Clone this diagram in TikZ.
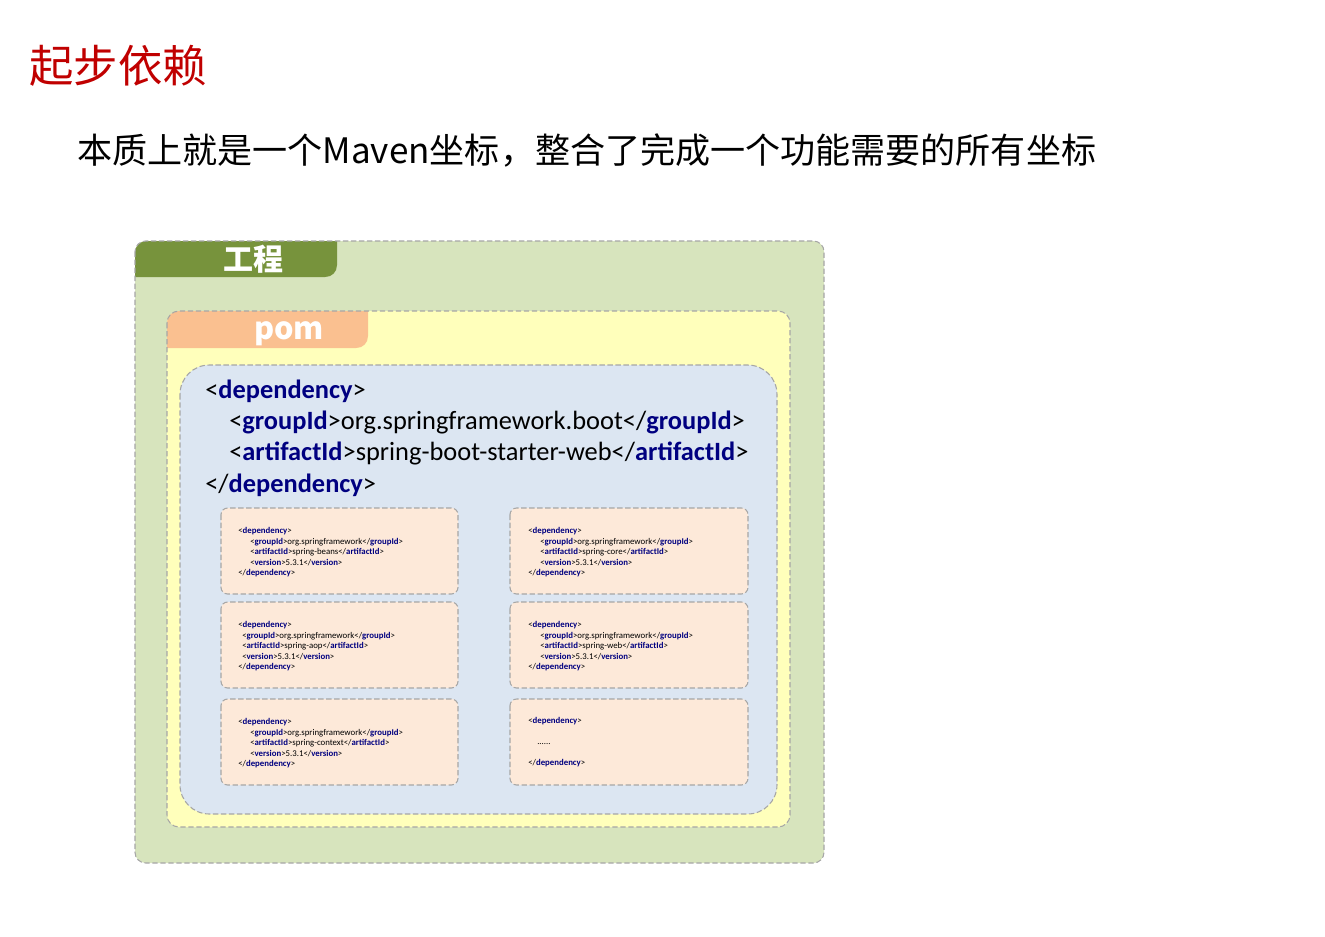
\documentclass[tikz,border=0pt]{standalone}
\usepackage{fontspec}
\setmainfont{Carlito}
\newfontfamily\cjk{Noto Sans CJK SC}
\newfontfamily\codefont{Carlito}
\definecolor{titlered}{HTML}{C00000}
\definecolor{outerfill}{HTML}{D7E4BD}
\definecolor{outertab}{HTML}{77933C}
\definecolor{pomfill}{HTML}{FFFFBB}
\definecolor{pomtab}{HTML}{FAC090}
\definecolor{bluefill}{HTML}{DCE6F2}
\definecolor{depfill}{HTML}{FDE9D9}
\definecolor{bordergray}{HTML}{A6A6A6}
\definecolor{tagblue}{HTML}{000080}
\newcommand{\tg}[1]{\textbf{\textcolor{tagblue}{#1}}}
\tikzset{
  dashborder/.style={draw=bordergray, line width=0.8pt, dash pattern=on 4pt off 2pt},
  bigcode/.style={anchor=base west, inner sep=0pt, font=\codefont\fontsize{19.8}{22}\selectfont},
  smallcode/.style={anchor=base west, inner sep=0pt, font=\codefont\fontsize{6.6}{7}\selectfont},
  depbox/.style={dashborder, fill=depfill, rounded corners=5pt},
}
\begin{document}
\begin{tikzpicture}[x=0.75pt,y=-0.75pt]
\useasboundingbox (0,0) rectangle (1325,936);
% title
\node[anchor=west, inner sep=0pt, text=titlered, font=\cjk\fontsize{33.3}{36}\selectfont] (title) at (29,66) {起步依赖};
\node[anchor=west, inner sep=0pt, font=\cjk\fontsize{26.3}{30}\selectfont] (subtitle) at (77,150) {本质上就是一个Maven坐标，整合了完成一个功能需要的所有坐标};
% outer box
\path[fill=outerfill, rounded corners=8pt] (135,241) rectangle (824,863);
\fill[outertab] (135,277) -- (135,253) .. controls (135,246) and (140,241) .. (147,241) -- (337,241) -- (337,265) .. controls (337,272) and (332,277) .. (325,277) -- cycle;
\draw[dashborder, rounded corners=8pt] (135,241) rectangle (824,863);
\node[text=white, font=\cjk\bfseries\fontsize{22.5}{24}\selectfont, inner sep=0pt] (gc) at (253,259) {工程};
% pom box
\path[fill=pomfill, rounded corners=9pt] (167,311) rectangle (790,827);
\fill[pomtab] (167,348) -- (167,323) .. controls (167,316) and (172,311) .. (179,311) -- (368,311) -- (368,336) .. controls (368,343) and (363,348) .. (356,348) -- cycle;
\draw[dashborder, rounded corners=9pt] (167,311) rectangle (790,827);
\node[anchor=base, text=white, font=\cjk\bfseries\fontsize{23}{24}\selectfont, inner sep=0pt] (pom) at (289,339) {pom};
% blue box
\draw[dashborder, fill=bluefill, rounded corners=22pt] (180,365) rectangle (777,814);
\node[bigcode] (l1) at (205,398) {<\tg{dependency}>};
\node[bigcode] (l2) at (229,429) {<\tg{groupId}>org.springframework.boot</\tg{groupId}>};
\node[bigcode] (l3) at (229,460) {<\tg{artifactId}>spring-boot-starter-web</\tg{artifactId}>};
\node[bigcode] (l4) at (205,492) {</\tg{dependency}>};
% dependency boxes
\draw[depbox] (221,508) rectangle (458,594);
\draw[depbox] (510,508) rectangle (748,594);
\draw[depbox] (221,602) rectangle (458,688);
\draw[depbox] (510,602) rectangle (748,688);
\draw[depbox] (221,699) rectangle (458,785);
\draw[depbox] (510,699) rectangle (748,785);
% box 1
\node[smallcode] (a1) at (238,533) {<\tg{dependency}>};
\node[smallcode] (a2) at (250,544) {<\tg{groupId}>org.springframework</\tg{groupId}>};
\node[smallcode] (a3) at (250,554) {<\tg{artifactId}>spring-beans</\tg{artifactId}>};
\node[smallcode] (a4) at (250,565) {<\tg{version}>5.3.1</\tg{version}>};
\node[smallcode] (a5) at (238,575) {</\tg{dependency}>};
% box 2
\node[smallcode] (b1) at (528,533) {<\tg{dependency}>};
\node[smallcode] (b2) at (540,544) {<\tg{groupId}>org.springframework</\tg{groupId}>};
\node[smallcode] (b3) at (540,554) {<\tg{artifactId}>spring-core</\tg{artifactId}>};
\node[smallcode] (b4) at (540,565) {<\tg{version}>5.3.1</\tg{version}>};
\node[smallcode] (b5) at (528,575) {</\tg{dependency}>};
% box 3
\node[smallcode] (c1) at (238,627) {<\tg{dependency}>};
\node[smallcode] (c2) at (242,638) {<\tg{groupId}>org.springframework</\tg{groupId}>};
\node[smallcode] (c3) at (242,648) {<\tg{artifactId}>spring-aop</\tg{artifactId}>};
\node[smallcode] (c4) at (242,659) {<\tg{version}>5.3.1</\tg{version}>};
\node[smallcode] (c5) at (238,669) {</\tg{dependency}>};
% box 4
\node[smallcode] (d1) at (528,627) {<\tg{dependency}>};
\node[smallcode] (d2) at (540,638) {<\tg{groupId}>org.springframework</\tg{groupId}>};
\node[smallcode] (d3) at (540,648) {<\tg{artifactId}>spring-web</\tg{artifactId}>};
\node[smallcode] (d4) at (540,659) {<\tg{version}>5.3.1</\tg{version}>};
\node[smallcode] (d5) at (528,669) {</\tg{dependency}>};
% box 5
\node[smallcode] (e1) at (238,724) {<\tg{dependency}>};
\node[smallcode] (e2) at (250,735) {<\tg{groupId}>org.springframework</\tg{groupId}>};
\node[smallcode] (e3) at (250,745) {<\tg{artifactId}>spring-context</\tg{artifactId}>};
\node[smallcode] (e4) at (250,756) {<\tg{version}>5.3.1</\tg{version}>};
\node[smallcode] (e5) at (238,766) {</\tg{dependency}>};
% box 6
\node[smallcode] (f1) at (528,723) {<\tg{dependency}>};
\node[smallcode] (f2) at (537,744) {......};
\node[smallcode] (f3) at (528,765) {</\tg{dependency}>};
\end{tikzpicture}
\end{document}
